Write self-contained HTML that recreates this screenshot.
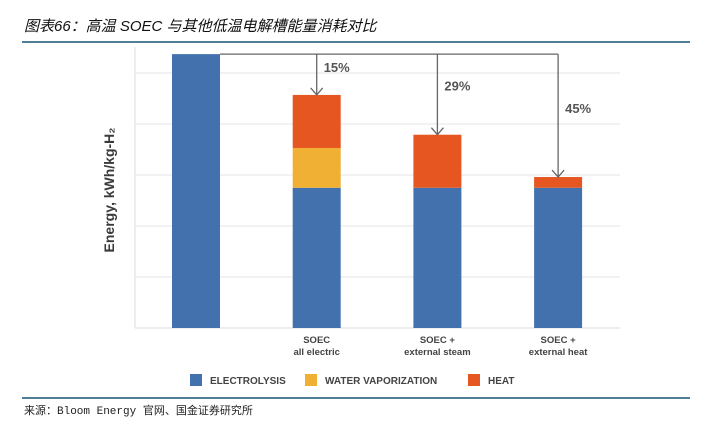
<!DOCTYPE html>
<html><head><meta charset="utf-8"><style>
body{margin:0;background:#fff;width:706px;height:419px;overflow:hidden;font-family:"Liberation Sans","Noto Sans CJK SC",sans-serif;}
</style></head><body>
<svg width="706" height="419" xmlns="http://www.w3.org/2000/svg">
<text x="24" y="31" font-size="15" font-style="italic" font-family="'Liberation Sans','Noto Sans CJK SC',sans-serif" fill="#111">图表66：高温 SOEC 与其他低温电解槽能量消耗对比</text>
<rect x="22" y="41" width="668" height="2" fill="#4f7f97"/>
<g id="grid"></g>
<line x1="135" y1="47" x2="135" y2="328" stroke="#ddd" stroke-width="1"/>
<line x1="135" y1="328" x2="620" y2="328" stroke="#ddd" stroke-width="1"/>
<g id="bars"></g>
<g id="arrows"></g>
<text transform="translate(114,190) rotate(-90)" text-anchor="middle" font-size="14" font-weight="bold" fill="#3a3a3a">Energy, kWh/kg-H₂</text>
<g id="xlabels" font-size="9.5" font-weight="bold" fill="#444" text-anchor="middle"></g>
<g id="legend" font-size="10" font-weight="bold" fill="#444"></g>
<rect x="22" y="397" width="668" height="2" fill="#4f7f97"/>
<text x="24" y="414" font-size="11" fill="#222" font-family="'Liberation Mono','Noto Sans CJK SC',monospace">来源：Bloom Energy 官网、国金证券研究所</text>
</svg>
<script>
const categories=["", "SOEC|all electric", "SOEC +|external steam", "SOEC +|external heat"];
const electrolysis=[53.7, 27.5, 27.5, 27.5];
const vaporization=[0, 7.8, 0, 0];
const heat=[0, 10.4, 10.4, 2.1];
const savings=["", "15%", "29%", "45%"];
const gridTicks=[10,20,30,40,50];
const NS="http://www.w3.org/2000/svg";
const y=v=>328-v*5.1;
const x=i=>172+i*120.7;
const bw=48;
function mk(tag,attrs,parent){const e=document.createElementNS(NS,tag);for(const k in attrs)e.setAttribute(k,attrs[k]);parent.appendChild(e);return e;}
const grid=document.getElementById('grid');
gridTicks.forEach(t=>{const l=mk('line',{x1:135,x2:620,y1:y(t),y2:y(t),stroke:'#eee','stroke-width':1.5},grid);

});
const bars=document.getElementById('bars');
const colors=['#4271ae','#f0b034','#e65621'];
categories.forEach((c,i)=>{let base=0;[electrolysis[i],vaporization[i],heat[i]].forEach((v,k)=>{if(v<=0)return;
const r=mk('rect',{x:x(i),y:y(base+v),width:bw,height:y(base)-y(base+v),fill:colors[k]},bars);


base+=v;});});
const ar=document.getElementById('arrows');
const topY=y(electrolysis[0]);
const lastX=x(3)+bw/2;
const hl=mk('line',{x1:x(0)+bw,x2:lastX,y1:topY,y2:topY,stroke:'#666','stroke-width':1.3},ar);


for(let i=1;i<categories.length;i++){const cx=x(i)+bw/2;const ty=y(electrolysis[i]+vaporization[i]+heat[i]);
const a=mk('path',{d:`M${cx},${topY} V${ty} M${cx-6},${ty-7} L${cx},${ty} L${cx+6},${ty-7}`,stroke:'#666','stroke-width':1.3,fill:'none'},ar);


const t=mk('text',{x:cx+7,y:topY+18+(i-1)*18.5+(i==3?4:0),'font-size':13,'font-weight':'bold',fill:'#555'},ar);
t.textContent=savings[i];

}
const xl=document.getElementById('xlabels');
categories.forEach((c,i)=>{if(!c)return;c.split('|').forEach((s,j)=>{const t=mk('text',{x:x(i)+bw/2,y:343+j*12},xl);t.textContent=s;

});});
const lg=document.getElementById('legend');
[['ELECTROLYSIS',190],['WATER VAPORIZATION',305],['HEAT',468]].forEach((d,k)=>{
const r=mk('rect',{x:d[1],y:374,width:12,height:12,fill:colors[k]},lg);


const t=mk('text',{x:d[1]+20,y:384},lg);t.textContent=d[0];

});
</script>
</body></html>
